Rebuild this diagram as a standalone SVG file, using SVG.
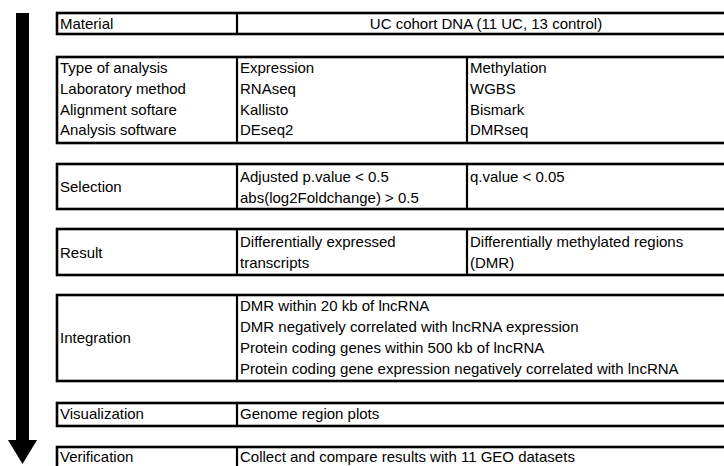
<svg xmlns="http://www.w3.org/2000/svg" width="724" height="466" viewBox="0 0 724 466">
<style>
.box{fill:#fff;stroke:#000;stroke-width:2.6}
.div{stroke:#000;stroke-width:2.2}
text{font-family:"Liberation Sans",Arial,sans-serif;font-size:15px;fill:#000}
</style>
<rect width="724" height="466" fill="#fff"/>
<g id="arrow">
<rect x="16" y="13" width="13" height="428" fill="#000"/>
<polygon points="8,440 37,440 22.5,464" fill="#000"/>
</g>
<g id="material">
<rect class="box" x="57" y="13" width="690" height="21"/>
<line class="div" x1="237" y1="13" x2="237" y2="34"/>
<text x="60" y="29">Material</text>
<text x="486" y="29" text-anchor="middle">UC cohort DNA (11 UC, 13 control)</text>
</g>
<g id="analysis">
<rect class="box" x="57" y="57" width="690" height="86"/>
<line class="div" x1="237" y1="57" x2="237" y2="143"/>
<line class="div" x1="467" y1="57" x2="467" y2="143"/>
<text x="60" y="73">Type of analysis</text>
<text x="60" y="94">Laboratory method</text>
<text x="60" y="114.5">Alignment softare</text>
<text x="60" y="135">Analysis software</text>
<text x="240" y="73">Expression</text>
<text x="240" y="94">RNAseq</text>
<text x="240" y="114.5">Kallisto</text>
<text x="240" y="135">DEseq2</text>
<text x="470" y="73">Methylation</text>
<text x="470" y="94">WGBS</text>
<text x="470" y="114.5">Bismark</text>
<text x="470" y="135">DMRseq</text>
</g>
<g id="selection">
<rect class="box" x="57" y="164" width="690" height="45"/>
<line class="div" x1="237" y1="164" x2="237" y2="209"/>
<line class="div" x1="467" y1="164" x2="467" y2="209"/>
<text x="60" y="192">Selection</text>
<text x="240" y="182">Adjusted p.value &lt; 0.5</text>
<text x="240" y="203">abs(log2Foldchange) &gt; 0.5</text>
<text x="470" y="182">q.value &lt; 0.05</text>
</g>
<g id="result">
<rect class="box" x="57" y="229" width="690" height="46"/>
<line class="div" x1="237" y1="229" x2="237" y2="275"/>
<line class="div" x1="467" y1="229" x2="467" y2="275"/>
<text x="60" y="258">Result</text>
<text x="240" y="247">Differentially expressed</text>
<text x="240" y="268">transcripts</text>
<text x="470" y="247">Differentially methylated regions</text>
<text x="470" y="268">(DMR)</text>
</g>
<g id="integration">
<rect class="box" x="57" y="295" width="690" height="86"/>
<line class="div" x1="237" y1="295" x2="237" y2="381"/>
<text x="60" y="343">Integration</text>
<text x="240" y="311">DMR within 20 kb of lncRNA</text>
<text x="240" y="332">DMR negatively correlated with lncRNA expression</text>
<text x="240" y="353">Protein coding genes within 500 kb of lncRNA</text>
<text x="240" y="374">Protein coding gene expression negatively correlated with lncRNA</text>
</g>
<g id="visualization">
<rect class="box" x="57" y="403" width="690" height="23"/>
<line class="div" x1="237" y1="403" x2="237" y2="426"/>
<text x="60" y="419">Visualization</text>
<text x="240" y="419">Genome region plots</text>
</g>
<g id="verification">
<rect class="box" x="57" y="447" width="690" height="30"/>
<line class="div" x1="237" y1="447" x2="237" y2="477"/>
<text x="60" y="462">Verification</text>
<text x="240" y="462">Collect and compare results with 11 GEO datasets</text>
</g>
</svg>
